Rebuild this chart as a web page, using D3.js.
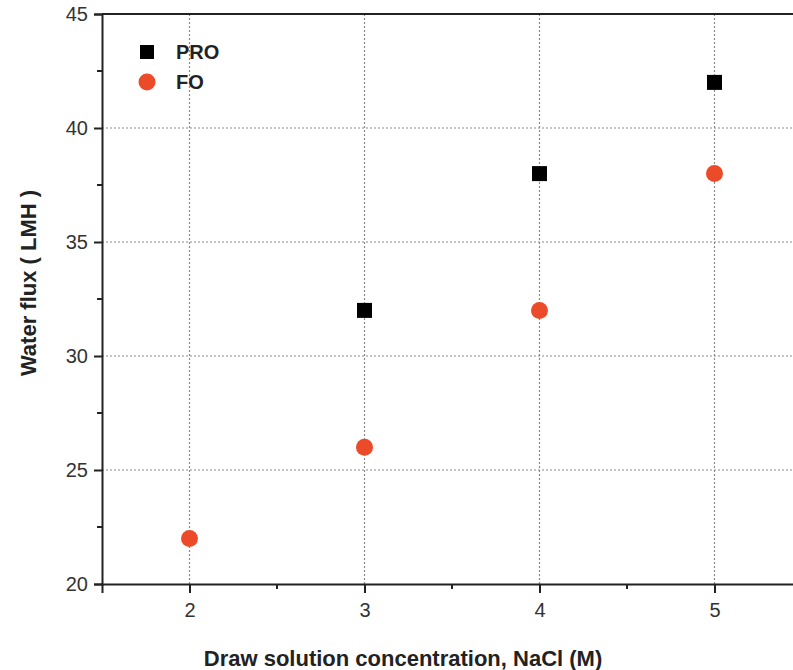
<!DOCTYPE html>
<html>
<head>
<meta charset="utf-8">
<script src="https://cdn.jsdelivr.net/npm/d3@7"></script>
<style>
  body { margin: 0; background: #fff; }
  svg { display: block; font-family: "Liberation Sans", Arial, sans-serif; }
</style>
</head>
<body>
<div id="chart"></div>
<script>
// data
var proX = [3, 4, 5];
var proY = [32, 38, 42];
var foX = [2, 3, 4, 5];
var foY = [22, 26, 32, 38];
var xTicks = [2, 3, 4, 5];
var yTicks = [20, 25, 30, 35, 40, 45];

var width = 793, height = 670;
var mLeft = 102, mTop = 14, mBottom = 584;

var svg = d3.select("#chart").append("svg")
    .attr("width", width)
    .attr("height", height);

var x = d3.scaleLinear().domain([1.5, 5.5]).range([mLeft, mLeft + 4 * 175]);
var y = d3.scaleLinear().domain([20, 45]).range([mBottom, mTop]);

// dotted grid lines
svg.selectAll(".gx").data(xTicks).enter().append("line")
    .attr("x1", function (d) { return x(d); })
    .attr("x2", function (d) { return x(d); })
    .attr("y1", mTop).attr("y2", mBottom)
    .style("stroke", "#8a8a8a").style("stroke-width", 1.2)
    .style("stroke-dasharray", "2,2");
svg.selectAll(".gy").data(yTicks.slice(1, -1)).enter().append("line")
    .attr("x1", mLeft).attr("x2", width)
    .attr("y1", function (d) { return y(d); })
    .attr("y2", function (d) { return y(d); })
    .style("stroke", "#8a8a8a").style("stroke-width", 1.2)
    .style("stroke-dasharray", "2,2");

// top border
svg.append("line")
    .attr("x1", mLeft).attr("x2", width)
    .attr("y1", mTop).attr("y2", mTop)
    .style("stroke", "#222").style("stroke-width", 2);

// axes
var xAxis = d3.axisBottom(x).tickValues(xTicks).tickSize(9).tickPadding(10)
    .tickFormat(d3.format("d"));
var gx = svg.append("g").attr("transform", "translate(0," + mBottom + ")").call(xAxis);
gx.append("g").selectAll("line").data([2.5, 3.5, 4.5]).enter().append("line")
    .attr("x1", function (d) { return x(d); })
    .attr("x2", function (d) { return x(d); })
    .attr("y1", 0).attr("y2", 5)
    .style("stroke", "#222").style("stroke-width", 2);

var yAxis = d3.axisLeft(y).tickValues(yTicks).tickSize(8).tickPadding(6)
    .tickFormat(d3.format("d"));
var gy = svg.append("g").attr("transform", "translate(" + mLeft + ",0)").call(yAxis);
gy.append("g").selectAll("line").data([22.5, 27.5, 32.5, 37.5, 42.5]).enter().append("line")
    .attr("x1", 0).attr("x2", -5)
    .attr("y1", function (d) { return y(d); })
    .attr("y2", function (d) { return y(d); })
    .style("stroke", "#222").style("stroke-width", 2);

[gx, gy].forEach(function (g) {
    g.select(".domain").style("stroke", "#222").style("stroke-width", 2);
    g.selectAll(".tick line").style("stroke", "#222").style("stroke-width", 2);
    g.selectAll("text").style("font-size", "20px").style("fill", "#333")
        .style("font-family", "'Liberation Sans', Arial, sans-serif");
});

// axis titles
svg.append("text")
    .attr("x", 403).attr("y", 666)
    .attr("text-anchor", "middle")
    .style("font-size", "22px").style("font-weight", "bold").style("fill", "#222")
    .text("Draw solution concentration, NaCl (M)");
svg.append("text")
    .attr("transform", "translate(36,283) rotate(-90)")
    .attr("text-anchor", "middle")
    .style("font-size", "22px").style("font-weight", "bold").style("fill", "#222")
    .text("Water flux ( LMH )");

// points
var s = 15;
svg.selectAll(".pro").data(proX).enter().append("rect")
    .attr("x", function (d) { return x(d) - s / 2; })
    .attr("y", function (d, i) { return y(proY[i]) - s / 2; })
    .attr("width", s).attr("height", s)
    .style("fill", "#000");
svg.selectAll(".fo").data(foX).enter().append("circle")
    .attr("cx", function (d) { return x(d); })
    .attr("cy", function (d, i) { return y(foY[i]); })
    .attr("r", 8.5)
    .style("fill", "#ec4b2a");

// legend
svg.append("rect").attr("x", 140).attr("y", 45).attr("width", 14).attr("height", 14).style("fill", "#000");
svg.append("circle").attr("cx", 147).attr("cy", 82).attr("r", 8.5).style("fill", "#ec4b2a");
svg.append("text").attr("x", 176).attr("y", 59)
    .style("font-size", "20px").style("font-weight", "bold").style("fill", "#222").text("PRO");
svg.append("text").attr("x", 176).attr("y", 89)
    .style("font-size", "20px").style("font-weight", "bold").style("fill", "#222").text("FO");
</script>
</body>
</html>
